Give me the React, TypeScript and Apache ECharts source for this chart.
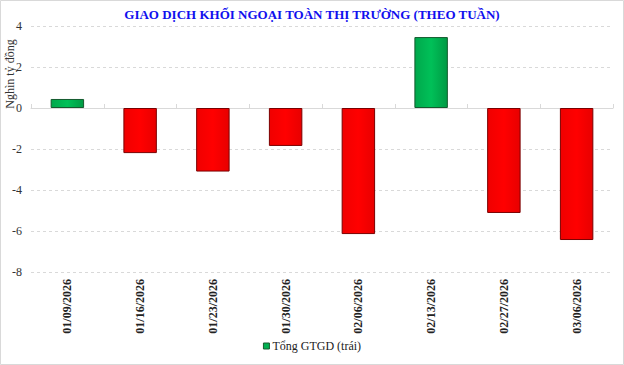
import React, { useEffect, useRef } from "react";
import * as echarts from "echarts";

const categories = ["01/09/2026", "01/16/2026", "01/23/2026", "01/30/2026", "02/06/2026", "02/13/2026", "02/27/2026", "03/06/2026"];
const values = [0.44, -2.2, -3.1, -1.85, -6.15, 3.46, -5.12, -6.44];
const yTicks = { min: -8, max: 4, interval: 2 };
const titleText = "GIAO DỊCH KHỐI NGOẠI TOÀN THỊ TRƯỜNG (THEO TUẦN)";
const yName = "Nghìn tỷ đồng";
const seriesName = "Tổng GTGD (trái)";

const SERIF = "Liberation Serif";

export default function App() {
  const ref = useRef<HTMLDivElement>(null);
  useEffect(() => {
    if (!ref.current) return;
    const chart = echarts.init(ref.current, undefined, { renderer: "svg" });
    const green = new echarts.graphic.LinearGradient(0, 0, 1, 0, [
      { offset: 0, color: "#00a84c" },
      { offset: 0.5, color: "#00c058" },
      { offset: 1, color: "#009a44" },
    ]);
    const red = new echarts.graphic.LinearGradient(0, 0, 1, 0, [
      { offset: 0, color: "#f00000" },
      { offset: 0.5, color: "#ff0000" },
      { offset: 1, color: "#e80000" },
    ]);
    chart.setOption({
      animation: false,
      backgroundColor: "#ffffff",
      textStyle: { fontFamily: SERIF },
      title: {
        text: titleText,
        left: "center",
        top: 3,
        textStyle: { fontFamily: SERIF, fontSize: 13, fontWeight: "bold", color: "#1010ee" },
      },
      legend: {
        bottom: 8,
        left: "center",
        itemWidth: 6,
        itemHeight: 6,
        itemGap: 4,
        icon: "rect",
        textStyle: { fontFamily: SERIF, fontSize: 12, color: "#222", padding: [0, 0, 0, -2] },
        data: [{ name: seriesName, itemStyle: { color: "#00b050", borderColor: "#1a5a30", borderWidth: 1 } }],
      },
      grid: { left: 31, right: 11, top: 26, bottom: 93, containLabel: false, outerBoundsMode: "none" },
      xAxis: [
        {
          type: "category",
          data: categories,
          position: "bottom",
          axisLine: { show: false, onZero: false },
          axisTick: { show: false },
          axisLabel: {
            rotate: 90,
            margin: 7,
            fontFamily: SERIF,
            fontSize: 12,
            fontWeight: "bold",
            color: "#222",
          },
          splitLine: { show: false },
        },
        {
          type: "category",
          data: categories,
          position: "top",
          axisLine: { show: true, onZero: true, lineStyle: { color: "#d9d9d9", width: 1 } },
          axisTick: { show: true, inside: false, length: 4, lineStyle: { color: "#d9d9d9" } },
          axisLabel: { show: false },
          splitLine: { show: false },
        },
      ],
      yAxis: {
        type: "value",
        min: yTicks.min,
        max: yTicks.max,
        interval: yTicks.interval,
        axisLine: { show: false },
        axisTick: { show: false },
        axisLabel: { fontFamily: SERIF, fontSize: 12, color: "#333", margin: 9 },
        splitLine: { lineStyle: { color: "#d9d9d9", type: [3, 3], width: 1 } },
      },
      graphic: [
        {
          type: "rect",
          shape: { x: 0.5, y: 0.5, width: 623, height: 364 },
          style: { fill: "none", stroke: "#d9d9d9", lineWidth: 1 },
          silent: true,
          z: 100,
        },
        {
          type: "text",
          x: 10,
          y: 74,
          rotation: Math.PI / 2,
          style: {
            text: yName,
            fontFamily: SERIF,
            fontSize: 12,
            fill: "#333",
            align: "center",
            verticalAlign: "middle",
          },
          silent: true,
        },
      ],
      series: [
        {
          name: seriesName,
          type: "bar",
          xAxisIndex: 0,
          barWidth: "46%",
          data: values.map((v) => ({
            value: v,
            itemStyle: v >= 0
              ? { color: green, borderColor: "#145a2e", borderWidth: 1 }
              : { color: red, borderColor: "#7a0000", borderWidth: 1 },
          })),
          itemStyle: { color: "#00b050" },
        },
      ],
    });
    return () => chart.dispose();
  }, []);
  return (
    <div
      ref={ref}
      style={{ position: "fixed", left: 0, top: 0, width: 624, height: 365 }}
    />
  );
}
